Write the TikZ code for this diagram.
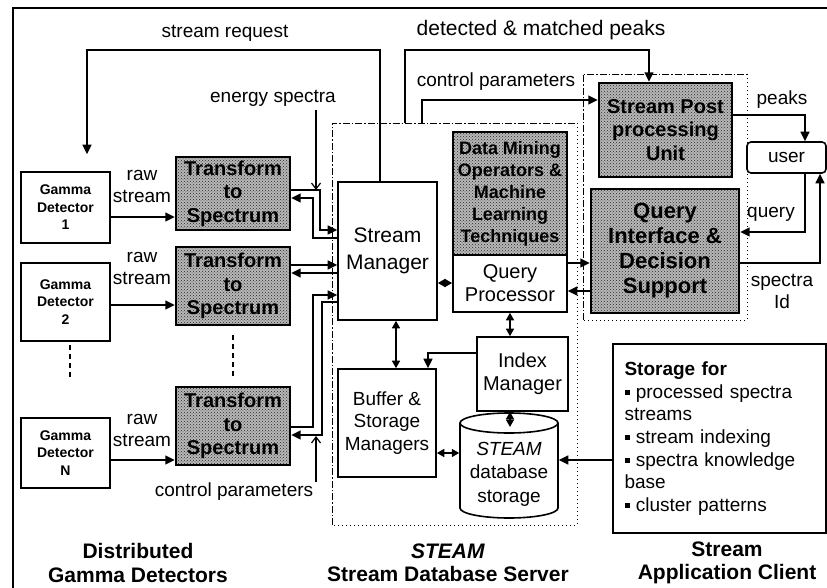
\documentclass[tikz,border=0pt]{standalone}
\usepackage{fontspec}
\setmainfont{Liberation Sans}
\usetikzlibrary{arrows.meta,patterns,calc}
\begin{document}
\begin{tikzpicture}[x=1pt,y=-1pt,
  line width=1.5pt,
  box/.style={draw,line width=1.6pt,fill=white,inner sep=0pt,align=center},
  gdbox/.style={box,minimum width=89pt,font=\fontsize{14}{17.5}\selectfont\bfseries},
  texbox/.style={draw,line width=2.4pt,preaction={fill=black!28},pattern=crosshatch dots,pattern color=black!85,inner sep=0pt,align=center,font=\fontsize{20}{23.5}\selectfont\bfseries},
  arr/.style={-{Triangle[length=9.5pt,width=9pt]}},
  darr/.style={{Triangle[length=7.5pt,width=8pt]}-{Triangle[length=7.5pt,width=8pt]}},
  openarr/.style={line width=1.2pt,-{Straight Barb[length=6pt,width=9pt,line width=1.2pt]}},
  lbl/.style={font=\fontsize{19}{22}\selectfont,align=center,inner sep=0pt},
  big/.style={font=\fontsize{21}{23.5}\selectfont\bfseries,align=center,inner sep=0pt},
  region/.style={line width=0.9pt,dash pattern=on 7pt off 2pt on 1.5pt off 2pt},
  regiondot/.style={line width=0.9pt,dash pattern=on 1pt off 3pt},
]
\useasboundingbox (0,0) rectangle (827,588);
% outer frame
\draw[line width=1.5pt] (13,588) -- (13,8) -- (827,8);

% regions
\draw[region] (332,525) -- (332,123) -- (577,123);
\draw[regiondot] (577,123) -- (577,525) -- (332,525);
\draw[region] (583,320) -- (583,74) -- (747,74);
\draw[regiondot] (747,74) -- (747,320) -- (583,320);

% gamma detectors
\node[gdbox,minimum height=71pt] (gd1) at (65.5,207.5) {Gamma\\Detector\\1};
\node[gdbox,minimum height=78pt] (gd2) at (65.5,302) {Gamma\\Detector\\2};
\node[gdbox,minimum height=70pt] (gdn) at (65.5,453) {Gamma\\Detector\\N};
\draw[line width=1.5pt,dash pattern=on 5pt off 4pt] (70,345) -- (70,378);

% transform boxes
\node[texbox,minimum width=114pt,minimum height=73pt] (t1) at (233,193.5) {Transform\\to\\Spectrum};
\node[texbox,minimum width=114pt,minimum height=78pt] (t2) at (233,286) {Transform\\to\\Spectrum};
\node[texbox,minimum width=114pt,minimum height=78pt] (tn) at (233,426) {Transform\\to\\Spectrum};
\draw[line width=1.5pt,dash pattern=on 5pt off 4pt] (233,335) -- (233,378);

% server components
\node[box,minimum width=99pt,minimum height=138pt,font=\fontsize{21}{27}\selectfont] (sm) at (387.5,251) {Stream\\Manager};
\node[texbox,minimum width=114pt,minimum height=123pt,font=\fontsize{18}{22}\selectfont\bfseries] (dm) at (510,193.5) {Data Mining\\Operators \&\\Machine\\Learning\\Techniques};
\node[box,minimum width=114pt,minimum height=57pt,font=\fontsize{20}{23}\selectfont] (qp) at (510,283.5) {Query\\Processor};
\node[box,minimum width=98pt,minimum height=108pt,font=\fontsize{19}{22.5}\selectfont] (buf) at (387,423) {Buffer \&\\Storage\\Managers};
\node[box,minimum width=91pt,minimum height=74pt,font=\fontsize{20}{23}\selectfont] (im) at (522.5,374) {Index\\Manager};

% database cylinder
\node[inner sep=0pt,minimum width=98pt,minimum height=105pt] (db) at (509,465.5) {};
\draw[line width=1.6pt,fill=white] (460,423) -- (460,508) arc[start angle=180,end angle=0,x radius=49,y radius=10] -- (558,423);
\draw[line width=1.6pt,fill=white] (509,423) ellipse [x radius=49,y radius=10];
\node[lbl,font=\fontsize{19}{23.5}\selectfont] at (509,474) {\textit{STEAM}\\database\\storage};

% client components
\node[texbox,minimum width=133pt,minimum height=94pt] (pp) at (665.5,130) {Stream Post\\processing\\Unit};
\node[texbox,minimum width=148pt,minimum height=124pt,font=\fontsize{22}{25}\selectfont\bfseries] (qi) at (665,251) {Query\\Interface \&\\Decision\\Support};
\node[box,rounded corners=4pt,minimum width=79pt,minimum height=31pt,font=\fontsize{19}{22}\selectfont] (user) at (786.5,157.5) {user};
\node[box,minimum width=213pt,minimum height=189pt,align=left,text width=190pt,font=\fontsize{19}{22.6}\selectfont] (st) at (719.5,438.5)
 {\textbf{Storage for}\\
  \rule[3pt]{5pt}{5pt} processed spectra\\streams\\
  \rule[3pt]{5pt}{5pt} stream indexing\\
  \rule[3pt]{5pt}{5pt} spectra knowledge\\base\\
  \rule[3pt]{5pt}{5pt} cluster patterns};

% detector -> transform
\draw[arr] (gd1.east |- 0,217) -- (t1.west |- 0,217);
\draw[arr] (gd2.east |- 0,305) -- (t2.west |- 0,305);
\draw[arr] (gdn.east |- 0,460) -- (tn.west |- 0,460);
\node[lbl] at (142,186) {raw\\stream};
\node[lbl] at (142,268) {raw\\stream};
\node[lbl] at (142,430) {raw\\stream};

% transform <-> stream manager
\draw[arr] (t1.east |- 0,190) -- (320,190) -- (320,230) -- (sm.west |- 0,230);
\draw[arr] (sm.west |- 0,238) -- (313,238) -- (313,198) -- (t1.east |- 0,198);
\draw[arr] (t2.east |- 0,265) -- (sm.west |- 0,265);
\draw[arr] (sm.west |- 0,273) -- (t2.east |- 0,273);
\draw[arr] (tn.east |- 0,427) -- (313,427) -- (313,295) -- (sm.west |- 0,295);
\draw[arr] (sm.west |- 0,302) -- (322,302) -- (322,435) -- (tn.east |- 0,435);

% energy spectra / control parameters (left)
\node[lbl] (es) at (273,98) {energy spectra};
\coordinate (esend) at (316,190);
\draw[openarr] (316,110) -- (esend);
\node[lbl] (cp1) at (234,492) {control parameters};
\coordinate (cpend) at (316,436);
\draw[openarr] (316,482) -- (cpend);

% stream request
\draw[arr,shorten >=17pt] (380,0 |- sm.north) -- (380,50) -- (87,50) -- (87,0 |- gd1.north);
\node[lbl] at (225,33) {stream request};

% detected & matched peaks, control parameters (top)
\coordinate (dmp) at (405,123);
\draw[arr] (dmp) -- (405,50) -- (649,50) -- (649,0 |- pp.north);
\node[lbl,font=\fontsize{21}{23}\selectfont] at (541,30) {detected \& matched peaks};
\coordinate (cpp) at (422,123);
\draw[arr] (cpp) -- (422,100) -- (pp.west |- 0,100);
\node[lbl] at (496,82) {control parameters};

% client arrows
\draw[arr] (pp.east |- 0,115) -- (805,115) -- (805,0 |- user.north);
\node[lbl] at (782,100) {peaks};
\draw[arr] (805,0 |- user.south) -- (805,232) -- (qi.east |- 0,232);
\node[lbl] at (771,214) {query};
\draw[arr] (qi.east |- 0,263) -- (820,263) -- (820,0 |- user.south);
\node[lbl] at (782,291) {spectra\\Id};

% query processor <-> query interface
\draw[arr] (qp.east |- 0,263) -- (qi.west |- 0,263);
\draw[arr] (qi.west |- 0,291) -- (qp.east |- 0,291);

% server internal
\draw[darr] (sm.east |- 0,283) -- (qp.west |- 0,283);
\draw[darr] (396,0 |- sm.south) -- (396,0 |- buf.north);
\draw[arr] (im.west |- 0,353) -- (428,353) -- (428,0 |- buf.north);
\draw[darr] (510,0 |- qp.south) -- (510,0 |- im.north);
\draw[darr] (510,0 |- im.south) -- (510,427);
\draw[darr] (buf.east |- 0,453) -- (db.west |- 0,453);
\draw[arr] (st.west |- 0,460) -- (db.east |- 0,460);

% bottom titles
\node[big] at (138,563) {Distributed\\Gamma Detectors};
\node[big] at (448,563) {\textit{STEAM}\\Stream Database Server};
\node[big] at (727,563) {Stream\\Application Client};
\end{tikzpicture}
\end{document}
